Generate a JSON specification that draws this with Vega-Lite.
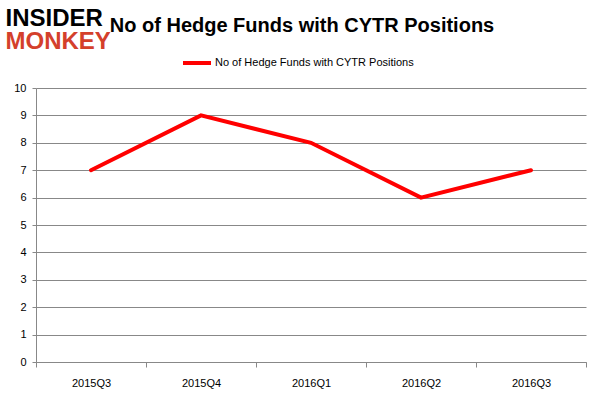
{
  "$schema": "https://vega.github.io/schema/vega-lite/v6.json",
  "width": 550,
  "height": 274,
  "autosize": {"type": "none"},
  "padding": {"left": 36, "top": 88, "right": 15, "bottom": 33},
  "background": "white",
  "title": {
    "text": "No of Hedge Funds with CYTR Positions",
    "anchor": "middle",
    "frame": "group",
    "fontSize": 20,
    "fontWeight": "bold",
    "font": "Liberation Sans",
    "color": "#000000",
    "dx": -9,
    "offset": -30
  },
  "data": {
    "values": [
      {"quarter": "2015Q3", "funds": 7, "series": "No of Hedge Funds with CYTR Positions"},
      {"quarter": "2015Q4", "funds": 9, "series": "No of Hedge Funds with CYTR Positions"},
      {"quarter": "2016Q1", "funds": 8, "series": "No of Hedge Funds with CYTR Positions"},
      {"quarter": "2016Q2", "funds": 6, "series": "No of Hedge Funds with CYTR Positions"},
      {"quarter": "2016Q3", "funds": 7, "series": "No of Hedge Funds with CYTR Positions"}
    ]
  },
  "mark": {"type": "line", "strokeWidth": 4, "strokeCap": "round"},
  "encoding": {
    "x": {
      "field": "quarter",
      "type": "nominal",
      "sort": null,
      "scale": {"type": "band", "paddingInner": 0, "paddingOuter": 0},
      "axis": {
        "title": "MONKEY",
        "titleX": -31,
        "titleY": -314,
        "titleAlign": "left",
        "titleBaseline": "alphabetic",
        "titleAngle": 0,
        "titleFont": "Liberation Sans",
        "titleFontSize": 24,
        "titleFontWeight": "bold",
        "titleColor": "#d4402b",
        "labelAngle": 0,
        "labelFont": "Liberation Sans",
        "labelFontSize": 11,
        "labelColor": "#000000",
        "labelPadding": 10,
        "tickBand": "extent",
        "tickColor": "#888888",
        "tickSize": 5,
        "domainColor": "#888888",
        "grid": false
      }
    },
    "y": {
      "field": "funds",
      "type": "quantitative",
      "scale": {"domain": [0, 10]},
      "axis": {
        "values": [0, 1, 2, 3, 4, 5, 6, 7, 8, 9, 10],
        "title": "INSIDER",
        "titleX": -31,
        "titleY": -63,
        "titleAlign": "left",
        "titleBaseline": "alphabetic",
        "titleAngle": 0,
        "titleFont": "Liberation Sans",
        "titleFontSize": 24,
        "titleFontWeight": "bold",
        "titleColor": "#000000",
        "labelFont": "Liberation Sans",
        "labelFontSize": 11,
        "labelColor": "#000000",
        "labelPadding": 6,
        "tickColor": "#888888",
        "tickSize": 4,
        "domainColor": "#888888",
        "gridColor": "#888888",
        "gridOpacity": 1
      }
    },
    "color": {
      "field": "series",
      "type": "nominal",
      "scale": {"range": ["#ff0000"]},
      "legend": {
        "title": null,
        "orient": "none",
        "legendX": 145,
        "legendY": -41,
        "symbolType": "stroke",
        "symbolSize": 784,
        "symbolStrokeWidth": 4,
        "labelFont": "Liberation Sans",
        "labelFontSize": 11,
        "labelColor": "#000000",
        "labelOffset": 2,
        "labelLimit": 400
      }
    }
  },
  "config": {"view": {"stroke": null}}
}
